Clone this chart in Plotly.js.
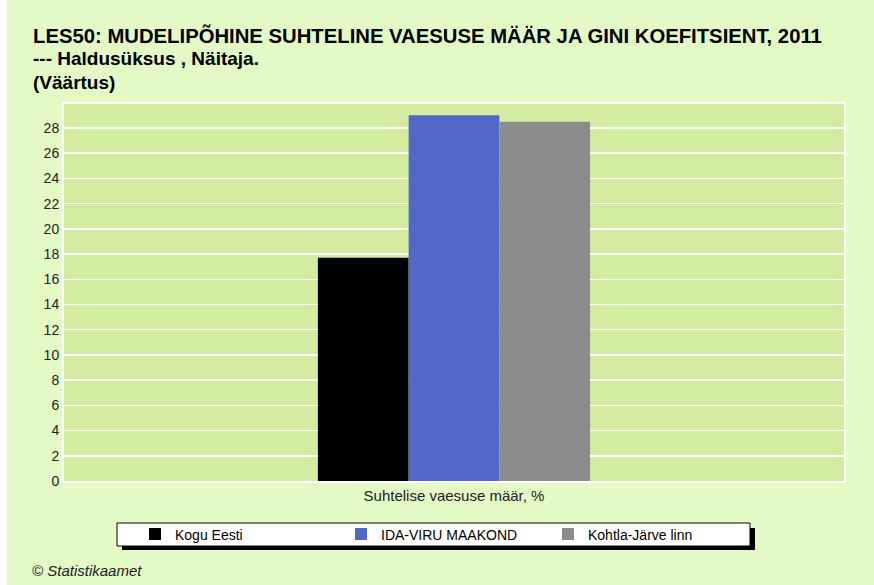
<!DOCTYPE html>
<html>
<head>
<meta charset="utf-8">
<script src="https://cdn.plot.ly/plotly-3.0.1.min.js"></script>
<style>
  html, body { margin: 0; padding: 0; background: #ffffff; }
  #chart { position: absolute; left: 7px; top: 0; width: 867px; height: 585px; }
</style>
</head>
<body>
<div id="chart"></div>
<script>
const categories = ["Suhtelise vaesuse määr, %"];
const seriesNames = ["Kogu Eesti", "IDA-VIRU MAAKOND", "Kohtla-Järve linn"];
const seriesValues = [[17.7], [29.0], [28.5]];
const seriesColors = ["#000000", "#5168c9", "#8c8c8c"];
const yTickVals = [0, 2, 4, 6, 8, 10, 12, 14, 16, 18, 20, 22, 24, 26, 28];
const titleLines = [
  "LES50: MUDELIPÕHINE SUHTELINE VAESUSE MÄÄR JA GINI KOEFITSIENT, 2011",
  "--- Haldusüksus , Näitaja.",
  "(Väärtus)"
];
const sourceText = "© Statistikaamet";

// plot area in page pixels (for converting layout positions)
const PL = 64, PR = 844, PT = 104, PB = 481;
const PW = PR - PL, PH = PB - PT;
const px = x => (x - PL) / PW;
const py = y => (PB - y) / PH;

const legendIds = ["legend", "legend2", "legend3"];
const legendTextStart = [177, 383, 590];

const traces = seriesNames.map((name, i) => ({
  type: "bar",
  name: name,
  x: categories,
  y: seriesValues[i],
  marker: { color: seriesColors[i], line: { width: 0 } },
  legend: legendIds[i],
  hoverinfo: "name+y"
}));

const font = "Liberation Sans, Arial, sans-serif";

const layout = {
  width: 867,
  height: 585,
  paper_bgcolor: "#e3f9c6",
  plot_bgcolor: "#d2eda0",
  font: { family: font, size: 12, color: "#222222" },
  margin: { l: PL - 7, r: 874 - PR, t: PT, b: 585 - PB, pad: 0 },
  barmode: "group",
  bargap: 0.651,
  bargroupgap: 0,
  title: {
    text: "<b>" + titleLines[0] + "</b>",
    font: { family: font, size: 20.3, color: "#000000" },
    xref: "container", yref: "container",
    x: 26 / 867, xanchor: "left",
    y: 1 - 36 / 585, yanchor: "middle"
  },
  xaxis: {
    type: "category",
    showgrid: false,
    showline: true, linecolor: "#ffffff", linewidth: 2, mirror: true,
    ticks: "", tickfont: { family: font, size: 15, color: "#222222" },
    fixedrange: true
  },
  yaxis: {
    range: [0, 29.9],
    tickvals: yTickVals,
    ticktext: yTickVals.map(String),
    showgrid: true, gridcolor: "#ffffff", gridwidth: 1.5,
    showline: true, linecolor: "#ffffff", linewidth: 2, mirror: true,
    zeroline: false,
    ticks: "", ticklen: 0,
    tickfont: { family: font, size: 14, color: "#222222" },
    fixedrange: true
  },
  showlegend: true,
  shapes: [
    {
      type: "rect", xref: "paper", yref: "paper", layer: "above",
      x0: px(122), x1: px(755), y0: py(528), y1: py(550),
      fillcolor: "#000000", line: { width: 0 }
    },
    {
      type: "rect", xref: "paper", yref: "paper", layer: "above",
      x0: px(117), x1: px(750), y0: py(523), y1: py(546),
      fillcolor: "#ffffff", line: { width: 1, color: "#000000" }
    }
  ],
  annotations: [
    {
      text: "<b>" + titleLines[1] + "</b>",
      xref: "paper", yref: "paper",
      x: px(33), xanchor: "left", y: py(59), yanchor: "middle",
      showarrow: false, xshift: -2,
      font: { family: font, size: 19, color: "#000000" }
    },
    {
      text: "<b>" + titleLines[2] + "</b>",
      xref: "paper", yref: "paper",
      x: px(33), xanchor: "left", y: py(82), yanchor: "middle",
      showarrow: false, xshift: -2,
      font: { family: font, size: 19, color: "#000000" }
    },
    {
      text: "<i>" + sourceText + "</i>",
      xref: "paper", yref: "paper",
      x: px(30), xanchor: "left",
      y: py(570), yanchor: "middle",
      showarrow: false,
      font: { family: font, size: 15, color: "#222222" }
    }
  ]
};

legendIds.forEach((id, i) => {
  layout[id] = {
    orientation: "h",
    x: px(legendTextStart[i] - 42), xanchor: "left",
    y: py(534.5), yanchor: "middle",
    bgcolor: "rgba(0,0,0,0)",
    borderwidth: 0,
    font: { family: font, size: 14, color: "#000000" },
    traceorder: "normal"
  };
});

Plotly.newPlot("chart", traces, layout, { displayModeBar: false, staticPlot: true });
</script>
</body>
</html>
